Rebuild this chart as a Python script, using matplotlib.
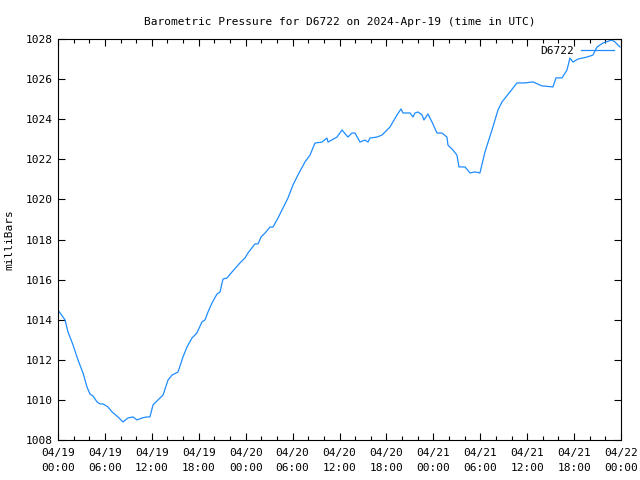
"""Barometric pressure chart for station D6722, gnuplot-like look."""

from datetime import datetime, timedelta

import matplotlib
import matplotlib.pyplot as plt
import matplotlib.dates as mdates

matplotlib.use('Agg')

plt.rcParams['font.family'] = ['DejaVu Sans Mono']

station = 'D6722'
start = datetime(2024, 4, 19)

# hours since 2024-04-19 00:00 UTC
hours = [
    0.00, 0.90, 1.28, 1.92, 2.56, 3.20, 3.71, 4.09, 4.48, 4.99, 5.37, 5.75,
    6.39, 6.91, 7.67, 8.31, 8.95, 9.59, 10.10, 10.74, 11.38, 11.76, 12.15,
    12.79, 13.43, 14.07, 14.58, 15.35, 15.98, 16.50, 17.14, 17.77, 18.41,
    18.80, 19.18, 19.69, 20.33, 20.72, 21.10, 21.61, 22.25, 23.27, 23.91,
    24.30, 25.19, 25.58, 25.96, 26.47, 27.11, 27.49, 28.13, 28.77, 29.41,
    30.05, 30.69, 31.59, 32.23, 32.86, 33.76, 34.40, 34.53, 35.68, 36.32,
    37.08, 37.60, 37.98, 38.62, 39.26, 39.64, 39.90, 40.79, 41.43, 42.46,
    43.35, 43.86, 44.12, 45.01, 45.40, 45.65, 46.04, 46.55, 46.80, 47.31,
    47.83, 48.47, 49.10, 49.74, 49.87, 50.51, 51.02, 51.28, 52.05, 52.69,
    53.32, 53.96, 54.60, 55.50, 56.27, 56.78, 57.80, 58.70, 59.72, 60.74,
    61.89, 63.30, 63.68, 64.45, 65.09, 65.47, 65.86, 66.50, 67.65, 68.41,
    68.93, 69.69, 70.84, 71.23, 71.87,
]

pressure = [
    1014.48, 1013.99, 1013.39, 1012.74, 1011.99, 1011.34, 1010.64, 1010.29,
    1010.19, 1009.90, 1009.80, 1009.80, 1009.65, 1009.40, 1009.15, 1008.90,
    1009.10, 1009.15, 1009.00, 1009.10, 1009.15, 1009.15, 1009.75, 1010.00,
    1010.24, 1010.99, 1011.24, 1011.39, 1012.14, 1012.64, 1013.09, 1013.34,
    1013.89, 1013.99, 1014.38, 1014.83, 1015.28, 1015.38, 1016.03, 1016.08,
    1016.38, 1016.83, 1017.08, 1017.33, 1017.78, 1017.78, 1018.12, 1018.32,
    1018.62, 1018.62, 1019.07, 1019.57, 1020.07, 1020.72, 1021.22, 1021.87,
    1022.21, 1022.81, 1022.86, 1023.06, 1022.86, 1023.11, 1023.46, 1023.11,
    1023.31, 1023.31, 1022.86, 1022.96, 1022.86, 1023.06, 1023.11, 1023.21,
    1023.61, 1024.21, 1024.51, 1024.31, 1024.31, 1024.11, 1024.31, 1024.36,
    1024.21, 1023.96, 1024.26, 1023.86, 1023.31, 1023.31, 1023.11, 1022.71,
    1022.46, 1022.21, 1021.62, 1021.62, 1021.32, 1021.37, 1021.32, 1022.36,
    1023.46, 1024.46, 1024.86, 1025.36, 1025.81, 1025.81, 1025.86, 1025.66,
    1025.61, 1026.06, 1026.06, 1026.45, 1027.05, 1026.85, 1027.00, 1027.10,
    1027.20, 1027.60, 1027.80, 1027.95, 1027.85, 1027.60,
]

times = [start + timedelta(hours=h) for h in hours]

fig = plt.figure(figsize=(6.4, 4.8), dpi=100)
ax = fig.add_axes([58 / 640, 40 / 480, 563 / 640, 401 / 480])

ax.plot(times, pressure, color='#1e8cff', linewidth=0.9, label=station)

ax.set_xlim(start, start + timedelta(hours=72))
ax.set_ylim(1008, 1028)
ax.set_yticks(range(1008, 1029, 2))
ax.xaxis.set_major_locator(mdates.HourLocator(byhour=[0, 6, 12, 18]))
ax.xaxis.set_minor_locator(mdates.HourLocator(interval=2))
ax.xaxis.set_major_formatter(mdates.DateFormatter('%m/%d\n%H:%M'))

ax.tick_params(which='both', direction='in', top=True, right=True, labelsize=8)
ax.tick_params(which='major', length=5, width=0.8)
ax.tick_params(which='minor', length=3, width=0.8)
ax.tick_params(axis='x', pad=6)
ax.tick_params(axis='y', pad=4)
for spine in ax.spines.values():
    spine.set_linewidth(0.8)

fig.canvas.draw()
for lbl in ax.get_xticklabels():
    lbl.set_linespacing(1.6)

ax.set_ylabel('milliBars', fontsize=8, labelpad=8)
ax.set_title(f'Barometric Pressure for {station} on 2024-Apr-19 (time in UTC)',
             fontsize=8, pad=10)

leg = ax.legend(loc='upper right', frameon=False, markerfirst=False, fontsize=8,
                handlelength=3, borderaxespad=0.2, handletextpad=0.6)

fig.savefig('out.png', dpi=100)
plt.close(fig)
